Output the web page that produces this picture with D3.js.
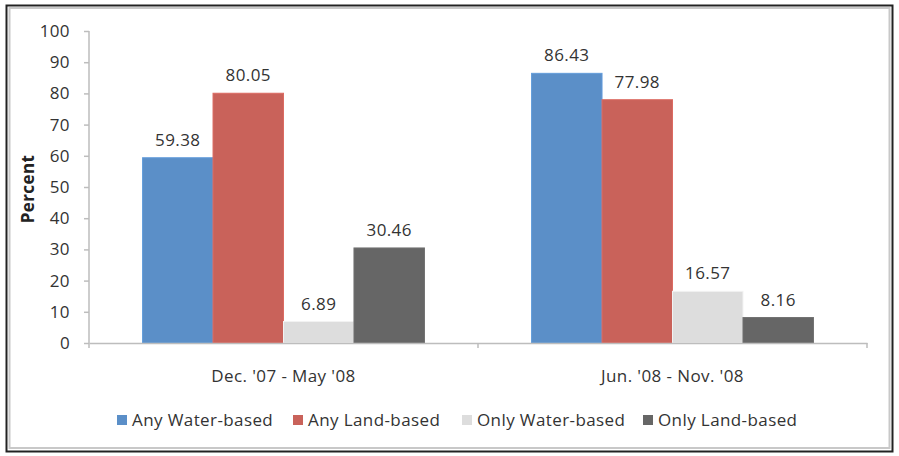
<!DOCTYPE html>
<html><head><meta charset="utf-8">
<script src="https://cdn.jsdelivr.net/npm/d3@7"></script>
<style>body{margin:0;background:#fff}svg{display:block}text{font-family:"Open Sans",sans-serif;letter-spacing:0.4px}</style>
</head><body><svg id="c" width="899" height="456"></svg>
<script>
const categories = ["Dec. '07 - May '08", "Jun. '08 - Nov. '08"];
const series = ["Any Water-based", "Any Land-based", "Only Water-based", "Only Land-based"];
const anyWater = [59.38, 86.43];
const anyLand = [80.05, 77.98];
const onlyWater = [6.89, 16.57];
const onlyLand = [30.46, 8.16];
const yTicks = [0,10,20,30,40,50,60,70,80,90,100];
const colors = ["#5B8FC8", "#C9625A", "#DDDDDD", "#666666"];
const values = [anyWater, anyLand, onlyWater, onlyLand];

const svg = d3.select("#c");
// frame
svg.append("rect").attr("x",6.5).attr("y",5.5).attr("width",886).attr("height",446).attr("fill","#fff").attr("stroke","#222").attr("stroke-width",2);
svg.append("rect").attr("x",9.5).attr("y",8).attr("width",880).attr("height",440).attr("fill","none").attr("stroke","#c8c8c8").attr("stroke-width",2);

const x0 = d3.scaleBand().domain(categories).range([89, 867]).padding(0);
const x1 = d3.scaleBand().domain(series).range([0, x0.bandwidth()]).paddingInner(0).paddingOuter(0.76);
const y = d3.scaleLinear().domain([0,100]).range([343, 31]);

// y axis
const yAxis = svg.append("g").attr("transform","translate(89,0)")
  .call(d3.axisLeft(y).tickValues(yTicks).tickSize(5).tickPadding(14));
yAxis.select(".domain").attr("stroke","#bdbdbd").attr("stroke-width",1.5).attr("d","M0,31V343");
yAxis.selectAll(".tick line").attr("stroke","#bdbdbd").attr("stroke-width",1.5);
yAxis.selectAll(".tick text").attr("fill","#333").attr("font-size",17);

// bars
categories.forEach((c, ci) => {
  series.forEach((s, si) => {
    const v = values[si][ci];
    const bx = x0(c) + x1(s);
    svg.append("rect").attr("x", bx).attr("y", y(v)).attr("width", x1.bandwidth()).attr("height", y(0)-y(v))
      .attr("fill", colors[si]).attr("stroke", d3.color(colors[si]).brighter(0.25)).attr("stroke-width",1);
    svg.append("text").attr("x", bx + x1.bandwidth()/2).attr("y", y(v) - 12)
      .attr("text-anchor","middle").attr("font-size",17).attr("fill","#333").text(v.toFixed(2));
  });
});

// x axis
const xAxis = svg.append("g").attr("transform","translate(0,343)")
  .call(d3.axisBottom(x0).tickSize(0).tickPadding(27));
xAxis.select(".domain").attr("stroke","#bdbdbd").attr("stroke-width",1.5);
xAxis.selectAll(".tick text").attr("fill","#333").attr("font-size",17);
[89, 478, 867].forEach(px => svg.append("line").attr("x1",px).attr("x2",px).attr("y1",343).attr("y2",348).attr("stroke","#bdbdbd").attr("stroke-width",1.5));

// y title
svg.append("text").attr("transform","translate(34,189) rotate(-90)").attr("text-anchor","middle")
  .attr("font-size",17).attr("font-weight","bold").attr("fill","#222").text("Percent");

// legend
const legX = [117, 293, 462, 643];
series.forEach((s, i) => {
  svg.append("rect").attr("x", legX[i]).attr("y", 415).attr("width",10).attr("height",10).attr("fill",colors[i]);
  svg.append("text").attr("x", legX[i]+15).attr("y", 426).attr("font-size",17).attr("fill","#333").text(s);
});
</script></body></html>
